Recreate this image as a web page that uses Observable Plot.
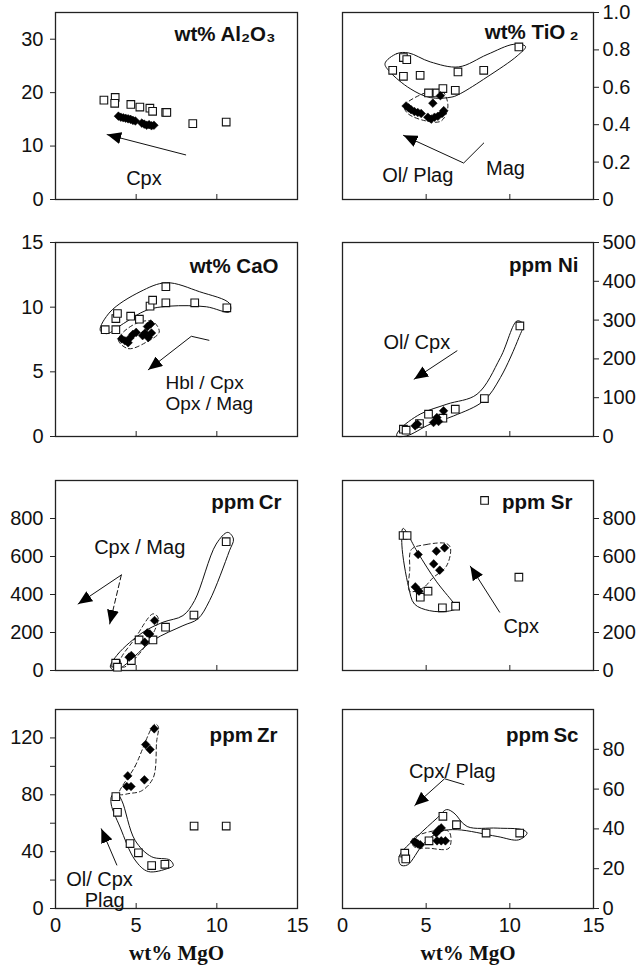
<!DOCTYPE html>
<html><head><meta charset="utf-8">
<script src="https://cdn.jsdelivr.net/npm/d3@7"></script>
<script src="https://cdn.jsdelivr.net/npm/@observablehq/plot@0.6"></script>
<style>
body{margin:0;background:#fff;}
#wrap{position:relative;width:640px;height:966px;overflow:hidden;font-family:"Liberation Sans",Arial,Helvetica,sans-serif;}
#wrap > *{position:absolute;}
</style></head><body><div id="wrap"></div>
<script>
// ---------- shared ----------
const mgoTicks = [0, 5, 10, 15];
const xLabel = "wt% MgO";

// ---------- Al2O3 ----------
const al2o3Open = [[3.0,18.6],[3.7,19.1],[3.67,18.0],[4.67,17.8],[5.23,17.3],[5.85,17.1],[6.02,16.5],[6.83,16.3],[6.9,16.3],[8.51,14.2],[10.58,14.5]];
const al2o3Filled = [[3.9,15.6],[4.05,15.4],[4.2,15.3],[4.35,15.2],[4.5,15.1],[4.65,15.0],[4.8,14.8],[4.95,14.7],[5.35,14.3],[5.5,14.1],[5.65,13.9],[5.8,14.0],[5.95,13.8],[6.1,13.9]];
const al2o3Arrow = [[8.07,8.35],[3.2,12.15]];
const al2o3Labels = [{x:5.48, y:3.9, text:"Cpx", anchor:"middle"}];
const al2o3YTicks = [0,10,20,30];

// ---------- TiO2 ----------
const tio2Open = [[3.64,0.759],[3.84,0.748],[3.0,0.691],[3.64,0.659],[4.64,0.664],[6.9,0.682],[8.44,0.691],[10.54,0.816],[5.14,0.57],[5.64,0.57],[6.0,0.593],[6.74,0.584]];
const tio2Filled = [[3.8,0.5],[3.95,0.49],[4.1,0.48],[4.3,0.47],[4.5,0.465],[4.7,0.46],[5.1,0.44],[5.3,0.43],[5.5,0.44],[5.7,0.445],[5.95,0.46],[6.05,0.475],[5.4,0.515],[5.85,0.555]];
const tio2Hull = [[2.54,0.727],[3.24,0.78],[3.94,0.784],[5.24,0.736],[6.94,0.709],[8.64,0.775],[10.24,0.83],[10.94,0.818],[10.44,0.768],[8.64,0.655],[7.04,0.566],[6.54,0.548],[5.24,0.545],[4.04,0.593],[2.84,0.682]];
const tio2DashHull = [[3.7,0.5],[4.8,0.565],[5.9,0.585],[6.3,0.5],[5.9,0.42],[5.0,0.42],[3.9,0.46]];
const tio2Arrow = [[8.44,0.302],[7.24,0.195],[3.64,0.343]];
const tio2Labels = [{x:4.5, y:0.129, text:"Ol/ Plag", anchor:"middle"},{x:9.74, y:0.164, text:"Mag", anchor:"middle"}];
const tio2YTicks = [0,0.2,0.4,0.6,0.8,1.0];

// ---------- CaO ----------
const caoOpen = [[3.08,8.26],[3.74,8.26],[3.74,9.12],[3.84,9.51],[4.66,9.3],[5.2,9.07],[5.86,10.08],[6.02,10.54],[6.84,10.34],[6.84,11.58],[8.63,10.34],[10.62,9.95]];
const caoFilled = [[4.1,7.55],[4.3,7.4],[4.5,7.25],[4.6,7.6],[4.8,7.9],[5.0,8.05],[5.4,7.8],[5.55,8.0],[5.7,8.5],[5.9,8.7],[5.95,8.0],[5.75,7.65]];
const caoHull = [[2.77,8.21],[3.39,9.64],[5.24,11.19],[6.88,11.89],[8.94,11.19],[10.79,10.28],[10.79,9.64],[9.35,10.03],[7.09,10.08],[5.65,9.77],[4.21,8.73],[3.18,7.95]];
const caoDashHull = [[3.9,7.44],[4.52,6.79],[5.65,7.31],[6.43,8.08],[6.06,8.86],[5.24,8.86],[4.21,8.08]];
const caoArrow = [[9.51,7.44],[8.42,7.75],[5.75,5.16]];
const caoLabels = [{x:6.82, y:3.36, text:"Hbl / Cpx\nOpx / Mag", anchor:"start"}];
const caoYTicks = [0,5,10,15];

// ---------- Ni ----------
const niOpen = [[3.64,18.9],[3.8,16.3],[4.6,33.5],[5.14,57.6],[6.0,47.3],[6.74,70.4],[8.48,97.9],[10.6,285]];
const niFilled = [[4.34,27.5],[4.48,32],[5.44,36],[5.64,49],[5.74,38.7],[6.04,66.2]];
const niHull = [[3.24,1.7],[3.44,18.9],[4.64,57.6],[6.24,83.3],[8.04,109],[9.44,203.6],[10.44,298],[10.8,289.5],[10.54,255],[9.44,152],[8.44,92],[6.64,53],[5.24,31.8],[3.84,1.7]];
const niArrow = [[6.84,220.8],[4.28,147.8]];
const niLabels = [{x:4.44, y:242, text:"Ol/ Cpx", anchor:"middle"}];
const niYTicks = [0,100,200,300,400,500];

// ---------- Cr ----------
const crOpen = [[3.73,38.5],[3.84,17.5],[4.7,52.5],[5.18,161],[6.04,161],[6.82,228],[8.58,292],[10.58,678]];
const crFilled = [[4.56,70],[4.7,79],[5.53,149],[5.69,198],[5.84,192.6],[6.14,263]];
const crHull = [[3.4,17.5],[3.88,87.6],[5.42,201],[6.66,254],[7.9,289],[8.62,368],[9.96,665.5],[10.68,727],[11.03,692],[10.78,630],[9.55,368],[8.82,271.5],[7.9,236],[6.04,158],[4.39,35],[3.77,0]];
const crDashHull = [[4.02,52.5],[4.91,166],[6.04,298],[6.35,280],[6.14,210],[5.01,70],[4.19,17.5]];
const crArrowSolid = [[4.08,502.6],[1.4,350]];
const crArrowDashed = [[4.08,502.6],[3.36,245]];
const crLabels = [{x:5.22, y:648, text:"Cpx / Mag", anchor:"middle"}];
const crYTicks = [0,200,400,600,800];

// ---------- Sr ----------
const srOpen = [[3.62,710.5],[3.86,710.5],[4.65,386],[5.11,417.5],[5.97,330],[6.76,338.6],[8.49,895],[10.54,491]];
const srFilled = [[4.52,610.5],[5.61,628],[6.1,645.6],[5.45,561],[5.81,528],[4.35,440],[4.57,417.5]];
const srHull = [[3.62,748],[4.5,620],[5.6,470],[6.6,360],[6.85,330],[6.3,312],[5.2,315],[4.3,350],[3.95,440],[3.55,660]];
const srDashHull = [[4.12,637],[5.01,663],[6.21,668],[6.45,645.6],[6.21,549],[5.41,488],[4.81,435],[4.02,417.5],[4.02,531.6]];
const srArrow = [[9.39,307],[7.64,549]];
const srLabels = [{x:10.68, y:233, text:"Cpx", anchor:"middle"}];
const srYTicks = [0,200,400,600,800];

// ---------- Zr ----------
const zrOpen = [[3.74,78.7],[3.84,67.7],[4.62,45.7],[5.14,39.2],[5.96,30.2],[6.78,31.1],[8.59,58],[10.58,58]];
const zrFilled = [[4.48,93.3],[4.42,85.8],[4.68,85.8],[5.51,90.5],[5.59,115.3],[5.86,111.8],[6.12,126.4]];
const zrHull = [[3.49,79.3],[3.8,81],[4.11,75.9],[4.93,48],[5.96,36.4],[7.09,34.1],[7.3,30.2],[6.99,28.3],[5.75,26],[4.93,34.1],[4.0,57.3],[3.45,73.5]];
const zrDashHull = [[3.95,80.5],[4.93,100],[6.16,129.7],[6.37,128],[6.27,117.6],[6.06,92],[5.34,82.8],[4.62,81]];
const zrArrow = [[3.8,30.6],[2.84,56.1]];
const zrLabels = [{x:0.66, y:20.2, text:"Ol/ Cpx", anchor:"start"},{x:1.81, y:5.8, text:"Plag", anchor:"start"}];
const zrYTicks = [0,20,40,60,80,100,120];

// ---------- Sc ----------
const scOpen = [[3.72,27.8],[3.78,24.9],[5.17,34],[6.0,46.3],[6.81,42.1],[8.58,37.9],[10.59,37.9]];
const scFilled = [[4.3,33.5],[4.4,33],[4.5,32.5],[4.65,32],[5.6,38],[5.75,39.5],[5.9,40.5],[5.65,34],[5.9,34],[6.15,34]];
const scHull = [[3.48,21.9],[3.38,26.1],[4.47,36.2],[5.66,45.5],[6.22,49.7],[6.66,48],[7.45,41.2],[9.24,40.4],[10.73,39.6],[11.03,37.9],[10.53,34.5],[9.24,36.2],[6.85,39.6],[5.86,38.7],[4.87,32.8],[3.88,21.9]];
const scDashHull = [[4.17,34.8],[5.27,38.7],[6.36,38.7],[6.36,30.3],[5.17,30.3],[4.27,31.1]];
const scArrow = [[7.25,62.3],[6.1,65.2],[4.31,51.7]];
const scLabels = [{x:6.56, y:69, text:"Cpx/ Plag", anchor:"middle"}];
const scYTicks = [0,20,40,60,80];

// ---------- layout ----------
const cols = [{left:0, width:310, ml:55, mr:13}, {left:320, width:320, ml:22, mr:47}];
const rows = [{top:0, frame:187, mb:10}, {top:230, frame:194, mb:10}, {top:468, frame:190, mb:10}, {top:697, frame:199, mb:58}];

const panels = [
  {col:0,row:0,title:"wt% Al\u2082O\u2083",yDomain:[0,35],yTicks:al2o3YTicks,open:al2o3Open,filled:al2o3Filled,arrows:[{pts:al2o3Arrow}],labels:al2o3Labels,tdx:-22,tdy:22},
  {col:1,row:0,title:"wt% TiO\u2009\u2082",yDomain:[0,1],yTicks:tio2YTicks,fmt:d=>d===0?"0":d.toFixed(1),open:tio2Open,filled:tio2Filled,hull:tio2Hull,dash:tio2DashHull,arrows:[{pts:tio2Arrow}],labels:tio2Labels,tdx:-15,tdy:20},
  {col:0,row:1,title:"wt% CaO",yDomain:[0,15],yTicks:caoYTicks,open:caoOpen,filled:caoFilled,hull:caoHull,dash:caoDashHull,arrows:[{pts:caoArrow}],labels:caoLabels,lh:1.12,lfs:19,tdx:-19,tdy:24},
  {col:1,row:1,title:"ppm Ni",yDomain:[0,500],yTicks:niYTicks,open:niOpen,filled:niFilled,hull:niHull,arrows:[{pts:niArrow}],labels:niLabels,tdx:-15,tdy:23},
  {col:0,row:2,title:"ppm\u2009Cr",yDomain:[0,1000],yTicks:crYTicks,open:crOpen,filled:crFilled,hull:crHull,dash:crDashHull,arrows:[{pts:crArrowSolid},{pts:crArrowDashed,dashed:true}],labels:crLabels,tdx:-16,tdy:22},
  {col:1,row:2,title:"ppm Sr",yDomain:[0,1000],yTicks:srYTicks,open:srOpen,filled:srFilled,hull:srHull,dash:srDashHull,arrows:[{pts:srArrow}],labels:srLabels,tdx:-21,tdy:22},
  {col:0,row:3,title:"ppm\u2009Zr",yDomain:[0,140],yTicks:zrYTicks,fmt:d=>d%40===0?String(d):"",open:zrOpen,filled:zrFilled,hull:zrHull,dash:zrDashHull,arrows:[{pts:zrArrow}],labels:zrLabels,tdx:-20,tdy:26},
  {col:1,row:3,title:"ppm\u2009Sc",yDomain:[0,100],yTicks:scYTicks,open:scOpen,filled:scFilled,hull:scHull,dash:scDashHull,arrows:[{pts:scArrow}],labels:scLabels,tdx:-15,tdy:26}
];

function headMarker(color, context) {
  const m = d3.create("svg:marker")
    .attr("viewBox", "-14 -6 14 12")
    .attr("markerWidth", 14).attr("markerHeight", 12)
    .attr("markerUnits", "userSpaceOnUse")
    .attr("refX", 0).attr("refY", 0)
    .attr("orient", "auto");
  m.append("path").attr("d", "M-14,-6L0,0L-14,6Z").attr("fill", "#000").attr("stroke", "none");
  return m.node();
}

const X = d => d[0], Y = d => d[1];
const wrap = document.getElementById("wrap");
const FONT = "'Liberation Sans',Arial,Helvetica,sans-serif";

for (const p of panels) {
  const c = cols[p.col], r = rows[p.row];
  const right = p.col === 1;
  const bottom = p.row === 3;
  const marks = [
    Plot.frame({stroke: "#222", strokeWidth: 1.3}),
    Plot.axisY({anchor: right ? "right" : "left", ticks: p.yTicks, tickSize: 5, tickPadding: right ? 4 : 7,
      tickFormat: p.fmt || (d => String(d)), label: null, stroke: "#222", fill: "#111"}),
    Plot.axisX({ticks: mgoTicks, tickSize: -5, tickFormat: () => "", label: null, stroke: "#222"})
  ];
  if (bottom) {
    marks.push(Plot.axisX({ticks: mgoTicks, tickSize: 0, tickPadding: 9, label: null, fill: "#111"}));
    marks.push(Plot.text([xLabel], {text: d => d, frameAnchor: "bottom", lineAnchor: "middle", dy: 45,
      fontFamily: "'Liberation Serif','Times New Roman',serif", fontWeight: "bold", fontSize: 21, fill: "#111"}));
  }
  if (p.hull) marks.push(Plot.line(p.hull, {x: X, y: Y, curve: "catmull-rom-closed", stroke: "#111", strokeWidth: 1}));
  if (p.dash) marks.push(Plot.line(p.dash, {x: X, y: Y, curve: "catmull-rom-closed", stroke: "#222", strokeWidth: 1, strokeDasharray: "4,3"}));
  for (const a of p.arrows) {
    marks.push(Plot.line(a.pts, {x: X, y: Y, stroke: "#111", strokeWidth: 1, markerEnd: headMarker,
      strokeDasharray: a.dashed ? "5,3" : null}));
  }
  marks.push(Plot.dot(p.open, {x: X, y: Y, symbol: "square", r: 4.3, stroke: "#111", strokeWidth: 1.1, fill: "white"}));
  marks.push(Plot.dot(p.filled, {x: X, y: Y, symbol: "diamond2", r: 3.9, fill: "#000", stroke: "#000", strokeWidth: 0.5}));
  for (const anchor of ["start", "middle", "end"]) {
    const lab = p.labels.filter(d => d.anchor === anchor);
    if (lab.length) marks.push(Plot.text(lab, {x: "x", y: "y", text: "text", textAnchor: anchor,
      lineHeight: p.lh || 1, fontSize: p.lfs || 20, fill: "#111"}));
  }
  marks.push(Plot.text([p.title], {text: d => d, frameAnchor: "top-right", lineAnchor: "middle", textAnchor: "end",
    dx: p.tdx, dy: p.tdy, fontWeight: "bold", fontSize: 20.5, fill: "#111"}));

  const svg = Plot.plot({
    width: c.width,
    height: 12 + r.frame + r.mb,
    marginTop: 12, marginBottom: r.mb, marginLeft: c.ml, marginRight: c.mr,
    x: {domain: [0, 15]},
    y: {domain: p.yDomain},
    style: {fontFamily: FONT, fontSize: "20px", background: "transparent", overflow: "visible"},
    marks
  });
  svg.style.left = c.left + "px";
  svg.style.top = r.top + "px";
  wrap.appendChild(svg);
}
</script>
</body></html>
